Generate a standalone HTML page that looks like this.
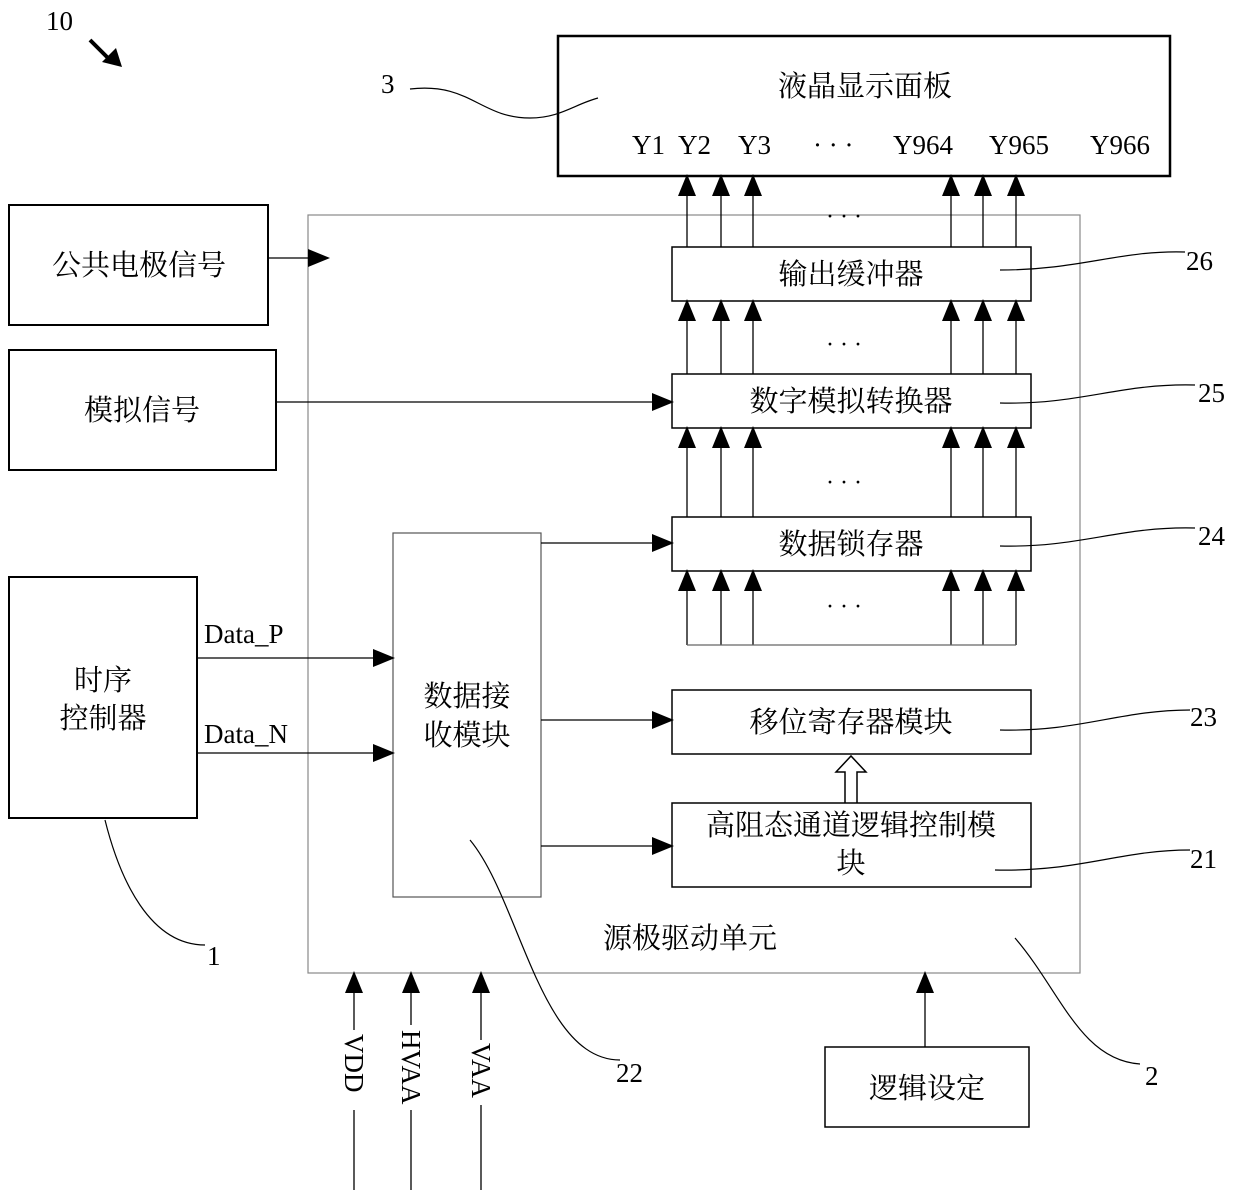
<!DOCTYPE html>
<html><head><meta charset="utf-8"><style>
html,body{margin:0;padding:0;background:#fff}
svg{display:block}
text{font-family:"Liberation Serif","Noto Serif CJK SC",serif;fill:#000}
.cj{font-family:"Noto Serif CJK SC","Noto Sans CJK SC",serif;font-size:29px}
</style></head><body>
<svg width="1240" height="1199" viewBox="0 0 1240 1199" xmlns="http://www.w3.org/2000/svg">
<defs>
<marker id="b" markerWidth="22" markerHeight="22" refX="20" refY="11" orient="auto" markerUnits="userSpaceOnUse" viewBox="0 0 22 22"><path d="M0,2 L22,11 L0,20z" fill="#000"/></marker>
</defs>
<g fill="none" stroke="#000">
<rect x="558" y="36" width="612" height="140" stroke-width="2.5"/>
<rect x="308" y="215" width="772" height="758" stroke="#888" stroke-width="1.2"/>
<rect x="672" y="247" width="359" height="54" stroke-width="1.5"/>
<rect x="672" y="374" width="359" height="54" stroke-width="1.5"/>
<rect x="672" y="517" width="359" height="54" stroke-width="1.5"/>
<rect x="672" y="690" width="359" height="64" stroke-width="1.5"/>
<rect x="672" y="803" width="359" height="84" stroke-width="1.5"/>
<rect x="393" y="533" width="148" height="364" stroke-width="1.2" stroke="#555"/>
<rect x="9" y="205" width="259" height="120" stroke-width="2"/>
<rect x="9" y="350" width="267" height="120" stroke-width="2"/>
<rect x="9" y="577" width="188" height="241" stroke-width="2"/>
<rect x="825" y="1047" width="204" height="80" stroke-width="1.5"/>
<g stroke-width="1.3" marker-end="url(#b)">
<path d="M687,247V176"/><path d="M721,247V176"/><path d="M753,247V176"/><path d="M951,247V176"/><path d="M983,247V176"/><path d="M1016,247V176"/>
<path d="M687,374V301"/><path d="M721,374V301"/><path d="M753,374V301"/><path d="M951,374V301"/><path d="M983,374V301"/><path d="M1016,374V301"/>
<path d="M687,517V428"/><path d="M721,517V428"/><path d="M753,517V428"/><path d="M951,517V428"/><path d="M983,517V428"/><path d="M1016,517V428"/>
<path d="M687,645V571"/><path d="M721,645V571"/><path d="M753,645V571"/><path d="M951,645V571"/><path d="M983,645V571"/><path d="M1016,645V571"/>
<path d="M268,258H328"/>
<path d="M276,402H672"/>
<path d="M197,658H393"/>
<path d="M197,753H393"/>
<path d="M541,543H672"/>
<path d="M541,720H672"/>
<path d="M541,846H672"/>
<path d="M925,1047V973"/>
<path d="M354,1190V973"/>
<path d="M411,1190V973"/>
<path d="M481,1190V973"/>
</g>
<path d="M687,645H1016" stroke="#666" stroke-width="1.2"/>
<path d="M845,803V772H836L851,756L866,772H857V803" stroke-width="1.5"/>
<path d="M90,40L110,60" stroke-width="4"/>
<path d="M102,62L122,67L116,48z" fill="#000" stroke="none"/>
<g stroke-width="1.2">
<path d="M410,89C470,82 480,118 530,118C560,118 575,104 598,98"/>
<path d="M1000,270C1080,270 1120,250 1185,252"/>
<path d="M1000,403C1080,405 1120,383 1195,385"/>
<path d="M1000,546C1080,548 1120,526 1195,528"/>
<path d="M1000,730C1080,732 1120,710 1190,710"/>
<path d="M995,870C1080,872 1120,850 1190,850"/>
<path d="M470,840C520,900 540,1060 620,1060"/>
<path d="M1015,938C1060,990 1080,1060 1140,1064"/>
<path d="M105,820C120,880 150,945 205,945"/>
</g>
</g>
<rect x="344" y="1030" width="20" height="80" fill="#fff"/>
<rect x="401" y="1025" width="20" height="85" fill="#fff"/>
<rect x="471" y="1040" width="20" height="65" fill="#fff"/>
<g font-size="27">
<text x="46" y="30">10</text>
<text x="381" y="93">3</text>
<text x="1186" y="270">26</text>
<text x="1198" y="402">25</text>
<text x="1198" y="545">24</text>
<text x="1190" y="726">23</text>
<text x="1190" y="868">21</text>
<text x="616" y="1082">22</text>
<text x="1145" y="1085">2</text>
<text x="207" y="965">1</text>
<text x="632" y="154">Y1</text>
<text x="678" y="154">Y2</text>
<text x="738" y="154">Y3</text>
<text x="813" y="154">· · ·</text>
<text x="893" y="154">Y964</text>
<text x="989" y="154">Y965</text>
<text x="1090" y="154">Y966</text>
<text x="204" y="643">Data_P</text>
<text x="204" y="743">Data_N</text>
<text transform="translate(345,1034) rotate(90)">VDD</text>
<text transform="translate(402,1030) rotate(90)">HVAA</text>
<text transform="translate(472,1043) rotate(90)">VAA</text>
</g>
<g font-size="24">
<text x="826" y="224">· · ·</text>
<text x="826" y="352">· · ·</text>
<text x="826" y="490">· · ·</text>
<text x="826" y="614">· · ·</text>
</g>
<g class="cj" text-anchor="middle">
<text x="865" y="96">液晶显示面板</text>
<text x="851" y="284">输出缓冲器</text>
<text x="851" y="411">数字模拟转换器</text>
<text x="851" y="554">数据锁存器</text>
<text x="851" y="732">移位寄存器模块</text>
<text x="851" y="835">高阻态通道逻辑控制模</text>
<text x="851" y="873">块</text>
<text x="467" y="706">数据接</text>
<text x="467" y="745">收模块</text>
<text x="139" y="275">公共电极信号</text>
<text x="142" y="420">模拟信号</text>
<text x="103" y="690">时序</text>
<text x="103" y="728">控制器</text>
<text x="690" y="948">源极驱动单元</text>
<text x="927" y="1098">逻辑设定</text>
</g>
</svg>
</body></html>
